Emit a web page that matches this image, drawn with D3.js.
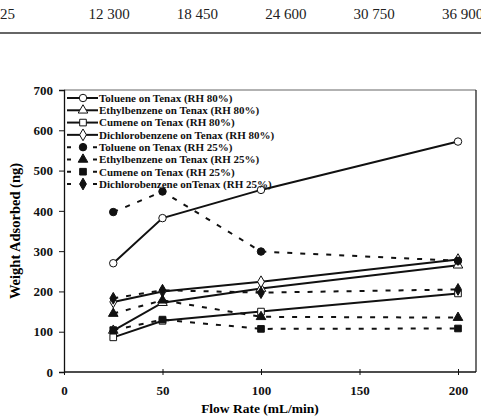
<!DOCTYPE html>
<html>
<head>
<meta charset="utf-8">
<script src="https://cdn.jsdelivr.net/npm/d3@7"></script>
<style>
  body { margin: 0; background: #fff; }
  svg { display: block; }
  svg text { font-family: 'Liberation Serif', 'Times New Roman', Times, serif; }
</style>
</head>
<body>
<svg id="chart" width="481" height="416"></svg>
<script>
const flowRates = [25, 50, 100, 200]
const topRow = ['25', '12 300', '18 450', '24 600', '30 750', '36 900']
const xTicks = [0, 50, 100, 150, 200]
const yTicks = [0, 100, 200, 300, 400, 500, 600, 700]

const tol80 = [270, 382, 452, 572]
const eb80 = [103, 172, 207, 265]
const cum80 = [86, 127, 150, 195]
const dcb80 = [174, 200, 224, 279]
const tol25 = [397, 448, 299, 276]
const eb25 = [145, 178, 137, 135]
const cum25 = [104, 130, 107, 108]
const dcb25 = [183, 203, 197, 205]

const seriesNames = [
  'Toluene on Tenax (RH 80%)',
  'Ethylbenzene on Tenax (RH 80%)',
  'Cumene on Tenax (RH 80%)',
  'Dichlorobenzene on Tenax (RH 80%)',
  'Toluene on Tenax (RH 25%)',
  'Ethylbenzene on Tenax (RH 25%)',
  'Cumene on Tenax (RH 25%)',
  'Dichlorobenzene onTenax (RH 25%)',
]
const seriesValues = [tol80, eb80, cum80, dcb80, tol25, eb25, cum25, dcb25]
const seriesShapes = ['circle', 'triangle', 'square', 'diamond', 'circle', 'triangle', 'square', 'diamond']
const seriesFilled = [false, false, false, false, true, true, true, true]
const seriesDashed = [false, false, false, false, true, true, true, true]

const serif = "'Liberation Serif', 'Times New Roman', Times, serif"
const svg = d3.select('#chart')
const margin = { top: 90, left: 64 }
const plotRight = 476
const plotBottom = 372

const x = d3.scaleLinear().domain([0, 200]).range([margin.left, 458])
const y = d3.scaleLinear().domain([0, 700]).range([plotBottom, margin.top])

// cropped table row above the chart
const topX = d3.scalePoint().domain(topRow).range([0, 442])
svg.append('g').selectAll('text')
  .data(topRow).enter()
  .append('text')
  .attr('x', (d) => topX(d))
  .attr('y', 19)
  .style('font-size', '15px')
  .style('fill', '#222')
  .text((d) => d)
svg.append('line')
  .attr('x1', 0).attr('x2', 481)
  .attr('y1', 33).attr('y2', 33)
  .style('stroke', '#333').style('stroke-width', 1.5)

// frame
svg.append('line').attr('x1', margin.left).attr('x2', plotRight).attr('y1', margin.top).attr('y2', margin.top)
  .style('stroke', '#999').style('stroke-width', 1.5)
svg.append('line').attr('x1', plotRight).attr('x2', plotRight).attr('y1', margin.top).attr('y2', plotBottom)
  .style('stroke', '#111').style('stroke-width', 1.2)

const gy = svg.append('g')
  .attr('transform', `translate(${margin.left},0)`)
  .call(d3.axisLeft(y).tickValues(yTicks).tickSize(5).tickPadding(6))
const gx = svg.append('g')
  .attr('transform', `translate(0,${plotBottom})`)
  .call(d3.axisBottom(x).tickValues(xTicks).tickSize(3).tickPadding(11))
gx.select('.domain').attr('d', `M${margin.left},0H${plotRight}`)
gx.selectAll('.tick line').attr('y1', -3).attr('y2', 3)

;[gx, gy].forEach((g) => {
  g.attr('font-family', serif)
  g.select('.domain').style('stroke', '#111').style('stroke-width', 1.3)
  g.selectAll('.tick line').style('stroke', '#111')
  g.selectAll('text')
    .style('font-weight', 'bold')
    .style('font-size', '13px')
    .style('fill', '#111')
})

svg.append('text')
  .attr('transform', 'translate(20,231) rotate(-90)')
  .style('text-anchor', 'middle')
  .style('font-weight', 'bold')
  .style('font-size', '14.5px')
  .text('Weight Adsorbed (ng)')
svg.append('text')
  .attr('x', 260).attr('y', 413)
  .style('text-anchor', 'middle')
  .style('font-weight', 'bold')
  .style('font-size', '13.5px')
  .text('Flow Rate (mL/min)')

const symbolType = { circle: d3.symbolCircle, triangle: d3.symbolTriangle, square: d3.symbolSquare, diamond: d3.symbolDiamond }
const symbolSize = { circle: 44, triangle: 40, square: 44, diamond: 40 }
const marker = (shape) => d3.symbol().type(symbolType[shape]).size(symbolSize[shape])()

const line = d3.line().x((d, i) => x(flowRates[i])).y((d) => y(d))

const gSeries = svg.append('g').selectAll('g')
  .data(seriesValues).enter()
  .append('g')

gSeries.append('path')
  .attr('d', (d) => line(d))
  .style('fill', 'none')
  .style('stroke', '#111')
  .style('stroke-width', 2)
  .style('stroke-dasharray', (d, i) => seriesDashed[i] ? '5,8' : null)

gSeries.each(function (vals, i) {
  d3.select(this).selectAll('path.pt')
    .data(vals).enter()
    .append('path')
    .classed('pt', true)
    .attr('d', marker(seriesShapes[i]))
    .attr('transform', (d, j) => `translate(${x(flowRates[j])},${y(d)})`)
    .style('fill', seriesFilled[i] ? '#111' : '#fff')
    .style('stroke', '#111')
    .style('stroke-width', 1)
})

// legend
const legend = svg.append('g')
const legendY = d3.scalePoint().domain(seriesNames).range([98, 184])
const lg = legend.selectAll('g')
  .data(seriesNames).enter()
  .append('g')
  .attr('transform', (d) => `translate(0,${legendY(d)})`)
lg.append('line')
  .attr('x1', 67).attr('x2', 98)
  .style('stroke', '#111')
  .style('stroke-width', 2)
  .style('stroke-dasharray', (d, i) => seriesDashed[i] ? '4,9' : null)
lg.append('path')
  .attr('d', (d, i) => marker(seriesShapes[i]))
  .attr('transform', 'translate(83,0)')
  .style('fill', (d, i) => seriesFilled[i] ? '#111' : '#fff')
  .style('stroke', '#111')
lg.append('text')
  .attr('x', 99).attr('dy', '0.35em')
  .style('font-weight', 'bold')
  .style('font-size', '11px')
  .style('fill', '#111')
  .text((d) => d)
</script>
</body>
</html>
